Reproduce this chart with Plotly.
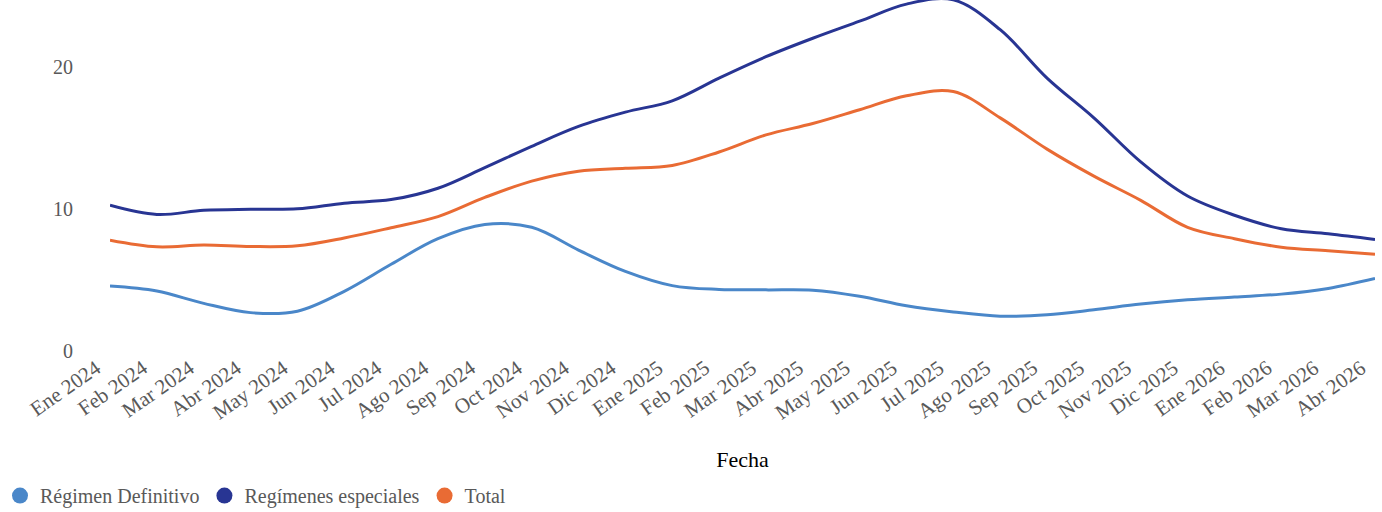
import plotly.graph_objects as go

meses = ["Ene 2024", "Feb 2024", "Mar 2024", "Abr 2024", "May 2024", "Jun 2024",
         "Jul 2024", "Ago 2024", "Sep 2024", "Oct 2024", "Nov 2024", "Dic 2024",
         "Ene 2025", "Feb 2025", "Mar 2025", "Abr 2025", "May 2025", "Jun 2025",
         "Jul 2025", "Ago 2025", "Sep 2025", "Oct 2025", "Nov 2025", "Dic 2025",
         "Ene 2026", "Feb 2026", "Mar 2026", "Abr 2026"]

regimen_definitivo = [4.57, 4.22, 3.35, 2.7, 2.8, 4.2, 6.1, 7.9, 8.9, 8.7, 7.1, 5.6,
                      4.6, 4.33, 4.3, 4.28, 3.85, 3.18, 2.75, 2.45, 2.55, 2.9, 3.3, 3.6,
                      3.8, 4.0, 4.4, 5.1]

regimenes_especiales = [10.25, 9.6, 9.9, 9.97, 10.0, 10.4, 10.65, 11.45, 12.9, 14.4, 15.8, 16.8,
                        17.6, 19.2, 20.7, 22.0, 23.2, 24.4, 24.7, 22.6, 19.2, 16.4, 13.3, 10.9,
                        9.55, 8.6, 8.25, 7.85]

total = [7.8, 7.33, 7.45, 7.35, 7.4, 7.95, 8.67, 9.45, 10.8, 11.95, 12.65, 12.85,
         13.05, 14.0, 15.2, 16.0, 16.97, 17.95, 18.25, 16.4, 14.2, 12.3, 10.6, 8.7,
         7.9, 7.3, 7.05, 6.8]

series = [
    ("Régimen Definitivo", regimen_definitivo, "#4a87c9"),
    ("Regímenes especiales", regimenes_especiales, "#283593"),
    ("Total", total, "#e96b34"),
]

FONT = "Liberation Serif, Times New Roman, serif"
GRAY = "#595959"

fig = go.Figure()
for name, vals, color in series:
    fig.add_trace(go.Scatter(
        x=meses, y=vals, mode="lines", name=name, showlegend=False,
        line=dict(color=color, width=3, shape="spline", smoothing=1),
    ))
for name, vals, color in series:
    fig.add_trace(go.Scatter(
        x=[None], y=[None], mode="markers", name=name, showlegend=True,
        marker=dict(color=color, size=20, symbol="circle"),
    ))

fig.update_layout(
    width=1382, height=512,
    margin=dict(l=110, r=7, t=0, b=161, autoexpand=False),
    plot_bgcolor="white", paper_bgcolor="white",
    font=dict(family=FONT, size=20, color=GRAY),
    legend=dict(
        orientation="h", xref="container", yref="container",
        x=-0.004, xanchor="left", y=0.032, yanchor="middle",
        font=dict(family=FONT, size=20, color=GRAY),
        itemwidth=30, tracegroupgap=0,
    ),
    xaxis=dict(
        type="category", range=[0, len(meses) - 1],
        showgrid=False, zeroline=False, showline=False, ticks="",
        tickangle=-35, ticklabelshift=-14,
        tickfont=dict(family=FONT, size=21, color=GRAY),
        title=dict(text="Fecha", font=dict(family=FONT, size=22, color="black"), standoff=28),
        automargin=False,
    ),
    yaxis=dict(
        range=[0, 24.69], tickvals=[0, 10, 20],
        showgrid=False, zeroline=False, showline=False, ticks="",
        tickfont=dict(family=FONT, size=20, color=GRAY),
        ticklabelstandoff=36, automargin=False,
    ),
)

fig.write_html(
    "out.html",
    config={"displayModeBar": False},
    post_script="document.body.style.margin='0';document.body.style.overflow='hidden';",
)
